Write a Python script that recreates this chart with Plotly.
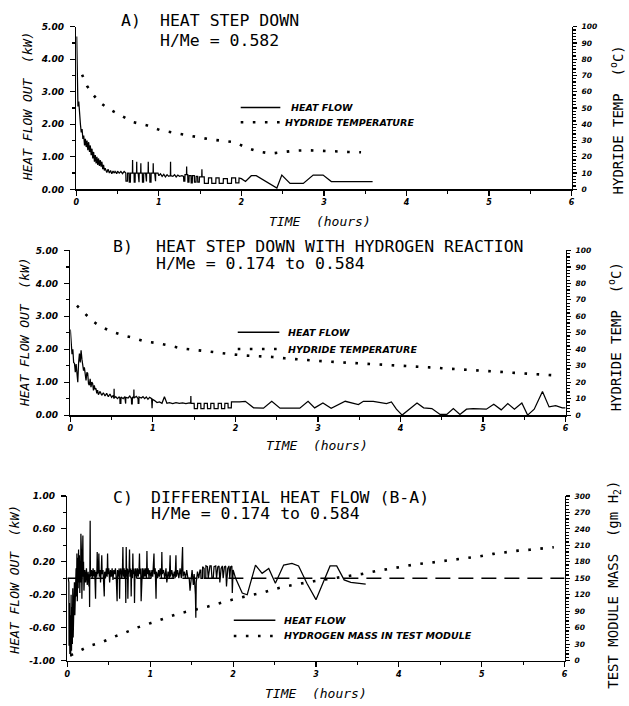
import plotly.graph_objects as go

W, H = 629, 706

# ---------------- DATA ----------------
hour_ticks = [0, 1, 2, 3, 4, 5, 6]
kw_ticks_ab = [0, 1, 2, 3, 4, 5]
kw_ticks_c = [-1.0, -0.6, -0.2, 0.2, 0.6, 1.0]

# Panel A: heat flow (time h, kW)
A_heat_flow = [
    (0.005, 4.70), (0.012, 2.90), (0.020, 2.55), (0.030, 2.70), (0.040, 2.20), (0.050, 2.00),
    (0.060, 1.75), (0.070, 1.85), (0.080, 1.55), (0.090, 1.65), (0.100, 1.35), (0.110, 1.55),
    (0.120, 1.30), (0.130, 1.50), (0.140, 1.20), (0.150, 1.45), (0.160, 1.15), (0.170, 1.35),
    (0.180, 1.05), (0.190, 1.25), (0.200, 0.95), (0.210, 1.15), (0.220, 0.85), (0.230, 1.05),
    (0.240, 0.80), (0.250, 1.00), (0.260, 0.75), (0.270, 0.95), (0.280, 0.72), (0.290, 0.90),
    (0.300, 0.70), (0.310, 0.85), (0.320, 0.62), (0.330, 0.75), (0.340, 0.58), (0.350, 0.65),
    (0.370, 0.52), (0.385, 0.62), (0.400, 0.50), (0.415, 0.58), (0.430, 0.48), (0.445, 0.56),
    (0.460, 0.50), (0.470, 0.55), (0.490, 0.48), (0.500, 0.56), (0.520, 0.50), (0.540, 0.55),
    (0.560, 0.48), (0.580, 0.55), (0.600, 0.50), (0.602, 0.25), (0.620, 0.25), (0.622, 0.50),
    (0.640, 0.50), (0.642, 0.22), (0.655, 0.22), (0.657, 0.50), (0.680, 0.50), (0.682, 0.90),
    (0.684, 0.50), (0.700, 0.50), (0.702, 0.22), (0.712, 0.22), (0.714, 0.50), (0.730, 0.50),
    (0.732, 0.85), (0.734, 0.50), (0.750, 0.50), (0.752, 0.22), (0.760, 0.22), (0.762, 0.50),
    (0.780, 0.50), (0.782, 0.80), (0.784, 0.50), (0.800, 0.50), (0.802, 0.22), (0.815, 0.22),
    (0.817, 0.50), (0.840, 0.50), (0.842, 0.24), (0.850, 0.24), (0.852, 0.50), (0.870, 0.50),
    (0.872, 0.85), (0.874, 0.50), (0.890, 0.50), (0.892, 0.22), (0.905, 0.22), (0.907, 0.50),
    (0.930, 0.50), (0.932, 0.80), (0.934, 0.50), (0.950, 0.50), (0.952, 0.25), (0.960, 0.25),
    (0.962, 0.50), (0.990, 0.50), (1.000, 0.42), (1.020, 0.48), (1.040, 0.40), (1.060, 0.46),
    (1.080, 0.38), (1.100, 0.45), (1.120, 0.40), (1.140, 0.42), (1.142, 0.85), (1.144, 0.42),
    (1.170, 0.40), (1.190, 0.45), (1.210, 0.38), (1.230, 0.44), (1.250, 0.40), (1.280, 0.42),
    (1.300, 0.40), (1.302, 0.25), (1.315, 0.25), (1.317, 0.45), (1.335, 0.45), (1.337, 0.70),
    (1.339, 0.45), (1.350, 0.45), (1.352, 0.22), (1.365, 0.22), (1.367, 0.42), (1.390, 0.42),
    (1.392, 0.20), (1.405, 0.20), (1.407, 0.42), (1.430, 0.42), (1.432, 0.22), (1.450, 0.22),
    (1.452, 0.40), (1.470, 0.40), (1.472, 0.22), (1.490, 0.22), (1.492, 0.38), (1.520, 0.38),
    (1.522, 0.62), (1.524, 0.38), (1.550, 0.38), (1.552, 0.18), (1.600, 0.18), (1.602, 0.35),
    (1.640, 0.35), (1.642, 0.18), (1.690, 0.18), (1.692, 0.35), (1.730, 0.35), (1.732, 0.18),
    (1.780, 0.18), (1.782, 0.33), (1.830, 0.33), (1.832, 0.18), (1.880, 0.18), (1.882, 0.35),
    (1.930, 0.35), (1.932, 0.20), (1.970, 0.20), (1.972, 0.35), (2.000, 0.33), (2.050, 0.24),
    (2.120, 0.42), (2.180, 0.42), (2.430, 0.04), (2.490, 0.44), (2.590, 0.18), (2.750, 0.18),
    (2.870, 0.44), (2.990, 0.44), (3.090, 0.24), (3.590, 0.24),
]

# Panel A: hydride temperature (time h, deg C)
A_temperature = [
    (0.07, 70.5), (0.13, 63.6), (0.20, 58.5), (0.28, 53.6), (0.39, 49.6), (0.53, 45.7),
    (0.69, 41.3), (0.86, 39.3), (1.01, 36.5), (1.16, 35.0), (1.31, 33.6), (1.45, 32.2),
    (1.61, 30.8), (1.76, 29.9), (1.92, 29.0), (2.05, 25.8), (2.20, 23.3), (2.36, 22.0),
    (2.50, 22.8), (2.65, 23.8), (2.81, 24.0), (2.97, 23.5), (3.13, 23.4), (3.29, 23.0),
    (3.45, 22.8),
]

# Panel B: heat flow (time h, kW)
B_heat_flow = [
    (0.000, 2.60), (0.010, 2.10), (0.020, 1.85), (0.030, 2.00), (0.040, 1.60), (0.050, 1.57),
    (0.060, 1.30), (0.070, 1.55), (0.080, 1.05), (0.090, 1.00), (0.100, 1.60), (0.110, 1.87),
    (0.120, 1.60), (0.130, 1.97), (0.140, 1.70), (0.150, 1.57), (0.160, 1.35), (0.170, 1.45),
    (0.180, 1.15), (0.190, 1.05), (0.200, 1.30), (0.210, 1.27), (0.220, 0.95), (0.230, 0.91),
    (0.240, 1.10), (0.250, 0.85), (0.260, 1.00), (0.270, 0.96), (0.280, 0.75), (0.290, 0.90),
    (0.300, 0.78), (0.310, 0.81), (0.320, 0.66), (0.330, 0.76), (0.340, 0.62), (0.360, 0.72),
    (0.380, 0.60), (0.400, 0.68), (0.420, 0.58), (0.440, 0.66), (0.460, 0.56), (0.480, 0.64),
    (0.500, 0.54), (0.520, 0.60), (0.528, 0.50), (0.530, 0.80), (0.532, 0.52), (0.550, 0.56),
    (0.570, 0.50), (0.590, 0.55), (0.600, 0.52), (0.602, 0.36), (0.612, 0.36), (0.614, 0.55),
    (0.640, 0.50), (0.660, 0.56), (0.662, 0.35), (0.670, 0.35), (0.672, 0.54), (0.700, 0.52),
    (0.720, 0.58), (0.740, 0.50), (0.742, 0.34), (0.750, 0.34), (0.752, 0.55), (0.768, 0.52),
    (0.770, 0.78), (0.772, 0.52), (0.800, 0.57), (0.820, 0.50), (0.822, 0.36), (0.830, 0.36),
    (0.832, 0.55), (0.860, 0.52), (0.880, 0.56), (0.900, 0.50), (0.920, 0.55), (0.940, 0.48),
    (0.960, 0.54), (0.985, 0.50), (0.990, 0.21), (0.995, 0.48), (1.020, 0.44), (1.050, 0.38),
    (1.080, 0.40), (1.110, 0.36), (1.140, 0.56), (1.170, 0.36), (1.200, 0.38), (1.240, 0.35),
    (1.280, 0.38), (1.320, 0.36), (1.360, 0.37), (1.400, 0.35), (1.440, 0.37), (1.458, 0.36),
    (1.460, 0.58), (1.462, 0.36), (1.500, 0.36), (1.502, 0.20), (1.540, 0.20), (1.542, 0.36),
    (1.580, 0.36), (1.582, 0.20), (1.620, 0.20), (1.622, 0.36), (1.660, 0.36), (1.662, 0.20),
    (1.700, 0.20), (1.702, 0.36), (1.740, 0.36), (1.742, 0.20), (1.790, 0.20), (1.792, 0.36),
    (1.830, 0.36), (1.832, 0.20), (1.870, 0.20), (1.872, 0.36), (1.910, 0.36), (1.912, 0.22),
    (1.950, 0.22), (1.952, 0.40), (2.050, 0.40), (2.120, 0.42), (2.220, 0.22), (2.340, 0.21),
    (2.440, 0.42), (2.540, 0.21), (2.780, 0.21), (2.880, 0.42), (2.960, 0.22), (3.060, 0.37),
    (3.160, 0.21), (3.330, 0.42), (3.490, 0.32), (3.550, 0.42), (3.670, 0.42), (3.830, 0.35),
    (3.890, 0.40), (3.950, 0.18), (4.020, 0.00), (4.200, 0.37), (4.280, 0.22), (4.380, 0.20),
    (4.480, 0.02), (4.560, 0.02), (4.640, 0.20), (4.720, 0.02), (4.800, 0.18), (4.880, 0.20),
    (5.040, 0.18), (5.130, 0.33), (5.220, 0.16), (5.300, 0.35), (5.380, 0.18), (5.470, 0.37),
    (5.540, 0.00), (5.620, 0.18), (5.720, 0.72), (5.800, 0.25), (5.880, 0.29), (5.960, 0.22),
    (6.000, 0.22),
]

# Panel B: hydride temperature (time h, deg C)
B_temperature = [
    (0.08, 66.5), (0.18, 61.5), (0.26, 57.5), (0.36, 53.9), (0.51, 50.6), (0.67, 48.0),
    (0.75, 47.1), (0.90, 44.7), (1.04, 43.8), (1.20, 42.2), (1.35, 40.5), (1.51, 39.6),
    (1.67, 38.5), (1.83, 37.8), (1.98, 36.8), (2.12, 36.2), (2.28, 35.8), (2.45, 35.3),
    (2.60, 34.5), (2.76, 33.8), (2.93, 33.0), (3.09, 32.6), (3.23, 32.2), (3.39, 31.8),
    (3.54, 31.4), (3.71, 31.0), (3.87, 30.6), (4.03, 30.1), (4.19, 29.5), (4.35, 29.0),
    (4.50, 28.5), (4.66, 28.0), (4.81, 27.5), (4.97, 27.0), (5.13, 26.6), (5.29, 26.1),
    (5.45, 25.6), (5.60, 25.2), (5.75, 24.7), (5.91, 24.0),
]

# Panel C: differential heat flow B-A (time h, kW)
C_heat_flow = [
    (0.010, 0.00), (0.018, -0.05), (0.020, -0.82), (0.025, -0.30), (0.030, -0.92), (0.035, -0.45),
    (0.040, -0.95), (0.045, -0.20), (0.050, -0.88), (0.055, -0.35), (0.060, -0.80), (0.065, -0.12),
    (0.070, -0.72), (0.075, -0.25), (0.080, -0.62), (0.085, -0.05), (0.090, -0.45), (0.095, 0.02),
    (0.100, -0.30), (0.105, 0.12), (0.110, -0.22), (0.115, 0.30), (0.120, -0.28), (0.125, 0.25),
    (0.130, -0.12), (0.135, 0.35), (0.140, -0.05), (0.145, 0.28), (0.150, -0.18), (0.155, 0.20),
    (0.160, -0.05), (0.163, 0.54), (0.166, 0.00), (0.170, 0.30), (0.175, -0.25), (0.180, 0.15),
    (0.185, -0.10), (0.187, 0.52), (0.190, 0.02), (0.195, 0.20), (0.200, -0.15), (0.210, 0.10),
    (0.220, -0.05), (0.230, 0.12), (0.240, -0.08), (0.250, 0.08), (0.260, -0.10), (0.265, 0.05),
    (0.268, -0.35), (0.272, 0.05), (0.275, 0.70), (0.278, 0.02), (0.290, 0.10), (0.300, 0.00),
    (0.310, 0.12), (0.320, 0.02), (0.330, 0.10), (0.340, -0.25), (0.345, 0.08), (0.355, 0.02),
    (0.360, 0.32), (0.365, 0.05), (0.375, 0.12), (0.380, 0.30), (0.385, 0.02), (0.395, 0.10),
    (0.400, -0.05), (0.410, 0.12), (0.415, 0.28), (0.420, 0.05), (0.430, 0.10), (0.445, -0.22),
    (0.450, 0.08), (0.460, 0.00), (0.470, 0.12), (0.480, 0.02), (0.485, 0.30), (0.490, 0.05),
    (0.500, 0.12), (0.510, -0.05), (0.520, 0.10), (0.530, 0.02), (0.540, 0.12), (0.550, -0.02),
    (0.560, 0.10), (0.570, 0.05), (0.580, 0.12), (0.590, 0.00), (0.600, -0.28), (0.605, 0.10),
    (0.615, 0.02), (0.625, 0.12), (0.630, -0.25), (0.635, 0.05), (0.645, 0.12), (0.655, 0.00),
    (0.665, 0.12), (0.670, 0.38), (0.675, 0.02), (0.685, 0.12), (0.690, 0.00), (0.700, 0.10),
    (0.705, -0.30), (0.710, 0.38), (0.715, 0.02), (0.725, 0.12), (0.730, -0.25), (0.735, 0.05),
    (0.745, 0.12), (0.750, 0.35), (0.755, 0.02), (0.765, 0.12), (0.770, -0.22), (0.775, 0.10),
    (0.785, 0.00), (0.790, 0.30), (0.795, 0.05), (0.805, 0.12), (0.810, -0.30), (0.815, 0.02),
    (0.825, 0.12), (0.835, 0.00), (0.845, 0.12), (0.855, 0.02), (0.865, 0.12), (0.870, 0.30),
    (0.875, 0.05), (0.885, 0.12), (0.890, -0.28), (0.895, 0.02), (0.905, 0.12), (0.915, 0.00),
    (0.925, 0.12), (0.935, 0.02), (0.945, 0.12), (0.955, 0.00), (0.960, 0.33), (0.965, 0.05),
    (0.975, 0.12), (0.985, 0.00), (0.995, 0.10), (1.010, 0.00), (1.020, 0.10), (1.030, 0.02),
    (1.045, 0.30), (1.050, 0.05), (1.060, 0.12), (1.070, -0.25), (1.075, 0.08), (1.090, 0.00),
    (1.100, 0.10), (1.110, 0.02), (1.120, 0.12), (1.135, 0.00), (1.140, 0.32), (1.145, 0.05),
    (1.160, 0.10), (1.175, 0.00), (1.190, 0.12), (1.200, -0.05), (1.215, 0.08), (1.230, 0.00),
    (1.240, 0.28), (1.245, 0.02), (1.260, 0.10), (1.275, 0.00), (1.290, 0.08), (1.300, 0.00),
    (1.310, 0.28), (1.315, 0.02), (1.330, 0.10), (1.345, 0.00), (1.360, 0.12), (1.375, 0.00),
    (1.390, 0.38), (1.395, 0.02), (1.410, 0.08), (1.425, 0.00), (1.440, 0.10), (1.455, 0.00),
    (1.470, 0.00), (1.480, -0.15), (1.490, 0.00), (1.505, 0.10), (1.520, -0.08), (1.530, 0.05),
    (1.545, -0.20), (1.550, -0.48), (1.555, -0.05), (1.570, 0.08), (1.585, 0.00), (1.600, 0.10),
    (1.610, 0.10), (1.612, 0.00), (1.630, 0.00), (1.632, 0.14), (1.650, 0.12), (1.652, 0.00),
    (1.670, 0.00), (1.672, 0.15), (1.690, 0.14), (1.700, 0.00), (1.720, 0.15), (1.735, 0.15),
    (1.745, 0.00), (1.760, 0.00), (1.770, 0.14), (1.790, 0.15), (1.800, 0.00), (1.815, 0.14),
    (1.830, 0.15), (1.840, -0.05), (1.855, 0.12), (1.870, 0.15), (1.880, 0.00), (1.895, 0.14),
    (1.910, 0.15), (1.920, -0.10), (1.935, 0.12), (1.950, 0.15), (1.960, 0.00), (1.970, 0.14),
    (1.985, 0.15), (1.990, -0.18), (2.000, 0.10), (2.030, 0.00), (2.110, -0.18), (2.170, -0.20),
    (2.270, 0.16), (2.350, 0.06), (2.430, 0.12), (2.510, -0.06), (2.610, 0.16), (2.710, 0.18),
    (2.790, 0.15), (2.890, -0.06), (3.000, -0.26), (3.170, 0.15), (3.250, 0.15), (3.340, -0.02),
    (3.420, -0.05), (3.600, -0.07),
]

# Panel C: hydrogen mass in test module (time h, gm H2)
C_hydrogen_mass = [
    (0.04, 9.5), (0.16, 18.8), (0.27, 27.0), (0.41, 33.0), (0.57, 43.8), (0.71, 51.7),
    (0.85, 60.5), (1.01, 68.6), (1.18, 77.9), (1.34, 85.5), (1.52, 92.0), (1.69, 98.2),
    (1.90, 107.5), (2.03, 113.0), (2.19, 118.5), (2.35, 123.5), (2.49, 130.0), (2.65, 135.7),
    (2.81, 140.5), (2.97, 144.5), (3.19, 149.5), (3.41, 154.3), (3.56, 158.0), (3.72, 163.0),
    (3.88, 167.5), (4.04, 171.0), (4.20, 175.3), (4.36, 178.0), (4.52, 181.0), (4.68, 184.6),
    (4.84, 188.0), (4.98, 190.0), (5.14, 194.4), (5.28, 197.3), (5.44, 200.3), (5.58, 202.0),
    (5.73, 204.2), (5.87, 206.5),
]

zero_ref = [0, 0]
zero_ref_x = [0, 6]

# ---------------- FIGURE ----------------
def fx(px):
    return px / W


def fy(py):
    return 1 - py / H


INK = "black"
TICKFONT = dict(family="DejaVu Sans", size=9, color=INK, weight="bold", style="italic")
RTICKFONT = dict(family="DejaVu Sans", size=7.5, color=INK, weight="bold", style="italic")
XTICKFONT = dict(family="DejaVu Sans", size=8, color=INK, weight="bold", style="italic")
MONO = "DejaVu Sans Mono"
DOT = "2.6px,9.5px"

fig = go.Figure()


def unzip(pairs):
    return [p[0] for p in pairs], [p[1] for p in pairs]


def heat_trace(pairs, xa, ya):
    t, v = unzip(pairs)
    return go.Scatter(x=t, y=v, xaxis=xa, yaxis=ya, mode="lines",
                      line=dict(color=INK, width=1.25), showlegend=False, hoverinfo="skip")


def dot_trace(pairs, xa, ya):
    t, v = unzip(pairs)
    return go.Scatter(x=t, y=v, xaxis=xa, yaxis=ya, mode="lines",
                      line=dict(color=INK, width=2.6, dash=DOT), showlegend=False, hoverinfo="skip")


fig.add_trace(heat_trace(A_heat_flow, "x", "y"))
fig.add_trace(dot_trace(A_temperature, "x", "y2"))
fig.add_trace(heat_trace(B_heat_flow, "x2", "y3"))
fig.add_trace(dot_trace(B_temperature, "x2", "y4"))
fig.add_trace(go.Scatter(x=zero_ref_x, y=zero_ref, xaxis="x3", yaxis="y5", mode="lines",
                         line=dict(color=INK, width=1.3, dash="15px,8px"), showlegend=False,
                         hoverinfo="skip"))
fig.add_trace(heat_trace(C_heat_flow, "x3", "y5"))
fig.add_trace(dot_trace(C_hydrogen_mass, "x3", "y6"))

common = dict(showgrid=False, zeroline=False, showline=True, linecolor=INK, linewidth=1.5,
              ticks="outside", tickcolor=INK, tickwidth=1.2, fixedrange=True)


def xaxis_cfg(x0, x1, anchor):
    return dict(domain=[fx(x0), fx(x1)], anchor=anchor, range=[0, 6], tickvals=hour_ticks,
                ticktext=[str(h) for h in hour_ticks], ticklen=5, tickfont=XTICKFONT,
                minor=dict(dtick=0.5, tick0=0, ticks="outside", ticklen=3, tickcolor=INK),
                **common)


def yleft_cfg(y0, y1, anchor, rng, vals, mdtick, mtick0):
    return dict(domain=[fy(y1), fy(y0)], anchor=anchor, range=rng, tickvals=vals,
                ticktext=["%.2f" % v for v in vals], ticklen=5, tickfont=TICKFONT,
                ticklabelstandoff=4,
                minor=dict(dtick=mdtick, tick0=mtick0, ticks="outside", ticklen=3, tickcolor=INK),
                **common)


def yright_cfg(overlay, anchor, rng, dtick, mdtick):
    return dict(overlaying=overlay, anchor=anchor, side="right", range=rng, dtick=dtick,
                tick0=0, ticklen=4, tickfont=RTICKFONT, ticklabelstandoff=3,
                minor=dict(dtick=mdtick, tick0=0, ticks="outside", ticklen=2.5, tickcolor=INK),
                **common)


fig.update_layout(
    width=W, height=H, autosize=False,
    margin=dict(l=0, r=0, t=0, b=0),
    paper_bgcolor="white", plot_bgcolor="white",
    showlegend=False,
    xaxis=xaxis_cfg(74, 574, "y"),
    yaxis=yleft_cfg(22, 187, "x", [0, 5], kw_ticks_ab, 0.5, 0),
    yaxis2=yright_cfg("y", "x", [0, 100], 10, 2),
    xaxis2=xaxis_cfg(68, 568, "y3"),
    yaxis3=yleft_cfg(249, 416, "x2", [0, 5], kw_ticks_ab, 0.5, 0),
    yaxis4=yright_cfg("y3", "x2", [0, 100], 10, 2),
    xaxis3=xaxis_cfg(65, 567, "y5"),
    yaxis5=yleft_cfg(498, 665, "x3", [-1, 1], kw_ticks_c, 0.2, -1),
    yaxis6=yright_cfg("y5", "x3", [0, 300], 30, 6),
)

annotations = []


def text(px, py, s, size, family=MONO, anchor="left", angle=0, style="normal", weight="normal"):
    annotations.append(dict(xref="paper", yref="paper", x=fx(px), y=fy(py), text=s,
                            showarrow=False, xanchor=anchor, yanchor="middle", textangle=angle,
                            borderpad=0,
                            font=dict(family=family, size=size, color=INK, style=style,
                                      weight=weight)))


TS = 16.5
# Panel titles
text(118, 16, "A)", TS)
text(157, 16, "HEAT STEP DOWN", TS)
text(157, 36, "H/Me = 0.582", TS)
text(110, 245, "B)", TS)
text(153, 245, "HEAT STEP DOWN WITH HYDROGEN REACTION", TS)
text(153, 262, "H/Me = 0.174 to 0.584", TS)
text(110, 500, "C)", TS)
text(148, 500, "DIFFERENTIAL HEAT FLOW (B-A)", TS)
text(148, 516, "H/Me = 0.174 to 0.584", TS)

# Axis titles
for (px, py) in [(25, 103), (22, 332), (12, 583)]:
    text(px, py, "HEAT FLOW OUT  (kW)", 13, anchor="center", angle=-90, style="italic")
for (px, py) in [(320, 220), (317, 447), (316, 698)]:
    text(px, py, "TIME  (hours)", 13, anchor="center", style="italic")
text(620, 117, "HYDRIDE TEMP  (<sup>o</sup>C)", 14, anchor="center", angle=-90)
text(618, 337, "HYDRIDE TEMP  (<sup>o</sup>C)", 14, anchor="center", angle=-90)
text(617, 588, "TEST MODULE MASS  (gm H<sub>2</sub>)", 14, anchor="center", angle=-90)

# Legends
shapes = []


def legend(x0, x1, y_solid, y_dot, tx_solid, tx_dot, lab_solid, lab_dot):
    shapes.append(dict(type="line", xref="paper", yref="paper", x0=fx(x0), x1=fx(x1),
                       y0=fy(y_solid), y1=fy(y_solid), line=dict(color=INK, width=1.5)))
    shapes.append(dict(type="line", xref="paper", yref="paper", x0=fx(x0), x1=fx(x1),
                       y0=fy(y_dot), y1=fy(y_dot), line=dict(color=INK, width=2.6, dash=DOT)))
    text(tx_solid, y_solid, lab_solid, 9.5, family="DejaVu Sans", style="italic", weight="bold")
    text(tx_dot, y_dot, lab_dot, 9.5, family="DejaVu Sans", style="italic", weight="bold")


legend(240, 280, 104, 119, 290, 284, "HEAT FLOW", "HYDRIDE TEMPERATURE")
legend(237, 279, 332, 349, 287, 287, "HEAT FLOW", "HYDRIDE TEMPERATURE")
legend(233, 275, 624, 640, 283, 283, "HEAT FLOW", "HYDROGEN MASS IN TEST MODULE")

fig.update_layout(annotations=annotations, shapes=shapes)

fig.write_html(
    "out.html",
    config={"displayModeBar": False, "staticPlot": True},
    post_script="document.documentElement.style.margin='0';document.body.style.margin='0';"
                "document.body.style.padding='0';document.body.style.overflow='hidden';",
)
